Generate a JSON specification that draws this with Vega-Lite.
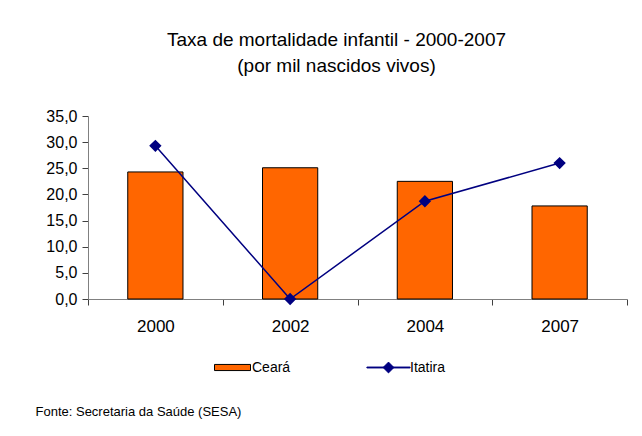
{
  "$schema": "https://vega.github.io/schema/vega-lite/v6.json",
  "width": 539,
  "height": 183,
  "autosize": {"type": "none"},
  "padding": {"left": 88, "top": 116, "right": 15, "bottom": 137},
  "background": "white",
  "config": {
    "font": "Liberation Sans",
    "view": {"stroke": null},
    "axis": {"domainColor": "#808080", "tickColor": "#404040", "labelColor": "black", "labelFont": "Liberation Sans", "grid": false}
  },
  "title": {
    "text": ["Taxa de mortalidade infantil - 2000-2007", "(por mil nascidos vivos)"],
    "font": "Liberation Sans",
    "fontSize": 19,
    "fontWeight": "normal",
    "color": "black",
    "lineHeight": 26,
    "anchor": "middle",
    "dx": -21,
    "offset": 32
  },
  "data": {
    "values": [
      {"ano": "2000", "ceara": 24.3, "itatira": 29.3},
      {"ano": "2002", "ceara": 25.1, "itatira": 0.0},
      {"ano": "2004", "ceara": 22.5, "itatira": 18.7},
      {"ano": "2007", "ceara": 17.8, "itatira": 26.0}
    ]
  },
  "encoding": {
    "x": {
      "field": "ano",
      "type": "nominal",
      "sort": null,
      "scale": {"paddingInner": 0, "paddingOuter": 0},
      "axis": {
        "labelAngle": 0,
        "labelFontSize": 17,
        "labelPadding": 13,
        "tickBand": "extent",
        "tickSize": 6,
        "title": "Fonte: Secretaria da Saúde (SESA)",
        "titleFont": "Liberation Sans",
        "titleFontSize": 13,
        "titleFontWeight": "normal",
        "titleColor": "black",
        "titleAnchor": "start",
        "titleAlign": "left",
        "titleBaseline": "alphabetic",
        "titleX": -53,
        "titleY": 116
      }
    }
  },
  "layer": [
    {
      "mark": {"type": "bar", "width": {"band": 0.41}, "stroke": "black", "strokeWidth": 1},
      "encoding": {
        "y": {
          "field": "ceara",
          "type": "quantitative",
          "scale": {"domain": [0, 35]},
          "axis": {
            "title": null,
            "values": [0, 5, 10, 15, 20, 25, 30, 35],
            "labelOverlap": false,
            "labelExpr": "replace(format(datum.value, '.1f'), '.', ',')",
            "labelFontSize": 16,
            "tickSize": 6,
            "labelPadding": 5
          }
        },
        "fill": {
          "datum": "Ceará",
          "type": "nominal",
          "scale": {"domain": ["Ceará"], "range": ["#FF6600"]},
          "legend": {
            "title": null,
            "orient": "none",
            "legendX": 135,
            "legendY": 242,
            "padding": 0,
            "labelFont": "Liberation Sans",
            "labelFontSize": 14,
            "labelColor": "black",
            "symbolType": "M-2,-0.34H2V0.34H-2Z",
            "symbolSize": 324,
            "symbolStrokeColor": "black",
            "symbolStrokeWidth": 1,
            "labelOffset": 10
          }
        }
      }
    },
    {
      "mark": {"type": "line", "strokeWidth": 1.5, "point": {"shape": "diamond", "filled": true, "size": 90, "fill": "#000080"}},
      "encoding": {
        "y": {
          "field": "itatira",
          "type": "quantitative",
          "scale": {"domain": [0, 35]},
          "axis": {
            "title": null,
            "values": [0, 5, 10, 15, 20, 25, 30, 35],
            "labelOverlap": false,
            "labelExpr": "replace(format(datum.value, '.1f'), '.', ',')",
            "labelFontSize": 16,
            "tickSize": 6,
            "labelPadding": 5
          }
        },
        "stroke": {
          "datum": "Itatira",
          "type": "nominal",
          "scale": {"domain": ["Itatira"], "range": ["#000080"]},
          "legend": {
            "title": null,
            "orient": "none",
            "legendX": 291,
            "legendY": 242,
            "padding": 0,
            "labelFont": "Liberation Sans",
            "labelFontSize": 14,
            "labelColor": "black",
            "symbolType": "M-2.4,-0.05H2.4V0.05H-2.4Z M0,-0.6L0.6,0L0,0.6L-0.6,0Z",
            "symbolSize": 324,
            "symbolFillColor": "#000080",
            "symbolStrokeWidth": 1,
            "labelOffset": 12
          }
        }
      }
    }
  ]
}
